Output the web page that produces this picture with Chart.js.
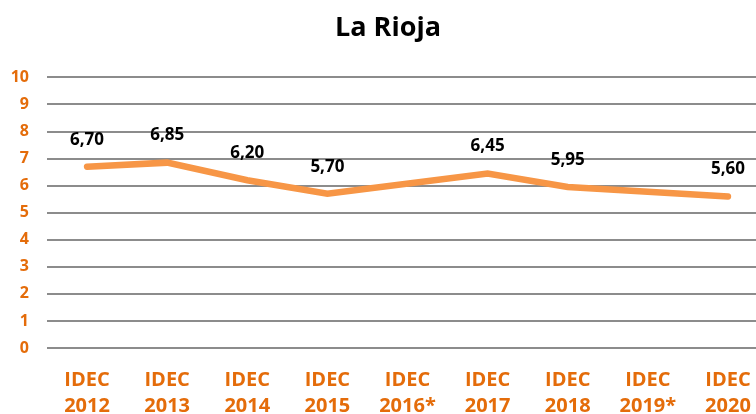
<!DOCTYPE html>
<html>
<head>
<meta charset="utf-8">
<script src="https://cdn.jsdelivr.net/npm/chart.js@4/dist/chart.umd.min.js"></script>
<style>
    html, body { margin: 0; padding: 0; background: #fff; overflow: hidden; }
    .wrap { width: 784px; height: 414px; }
</style>
</head>
<body>
<div class="wrap"><canvas class="myChart" width="784" height="414"></canvas></div>
<script>
const years = ["2012", "2013", "2014", "2015", "2016*", "2017", "2018", "2019*", "2020"];
const idecValues = [6.70, 6.85, 6.20, 5.70, null, 6.45, 5.95, null, 5.60];
const yTicks = [0, 1, 2, 3, 4, 5, 6, 7, 8, 9, 10];

const orangeText = "#E46C0A";
const lineColor = "#F79646";
const fontName = "'Open Sans'";

// simple label plugin, draws the value above each point
const valueLabels = {
    id: "valueLabels",
    afterDatasetsDraw(chart) {
        const ctx = chart.ctx;
        const meta = chart.getDatasetMeta(0);
        ctx.save();
        ctx.font = "bold 17px " + fontName;
        ctx.fillStyle = "#000";
        ctx.textAlign = "center";
        ctx.textBaseline = "middle";
        meta.data.forEach((pt, i) => {
            const v = idecValues[i];
            if (v === null) return;
            ctx.fillText(v.toFixed(2).replace(".", ","), pt.x, pt.y - 27);
        });
        ctx.restore();
    }
};

const ctx = document.querySelector(".myChart").getContext("2d");

new Chart(ctx, {
    type: "line",
    data: {
        labels: years.map(y => ["IDEC", y]),
        datasets: [{
            data: idecValues,
            borderColor: lineColor,
            borderWidth: 6.5,
            borderCapStyle: "round",
            pointRadius: 0,
            spanGaps: true,
            tension: 0
        }]
    },
    options: {
        responsive: false,
        animation: false,
        layout: { padding: { left: 8, right: 16, top: 0, bottom: 0 } },
        plugins: {
            legend: { display: false },
            tooltip: { enabled: false },
            title: {
                display: true,
                text: "La Rioja",
                color: "#000",
                font: { family: fontName, size: 27, weight: "bold", lineHeight: 1.2 },
                padding: { top: 12, bottom: 33 }
            }
        },
        scales: {
            x: {
                offset: true,
                afterFit: axis => { axis.height = 66; },
                grid: { display: false },
                border: { display: false },
                ticks: {
                    color: orangeText,
                    font: { family: fontName, size: 20, weight: "bold", lineHeight: 1.3 },
                    maxRotation: 0,
                    padding: 11
                }
            },
            y: {
                min: 0,
                max: 10,
                afterFit: axis => { axis.width = 39; },
                afterBuildTicks: axis => { axis.ticks = yTicks.map(v => ({ value: v })); },
                grid: { color: "#8c8c8c", lineWidth: 2, drawTicks: false },
                border: { display: false },
                ticks: {
                    color: orangeText,
                    font: { family: fontName, size: 16, weight: "bold" },
                    padding: 18
                }
            }
        }
    },
    plugins: [valueLabels]
});
</script>
</body>
</html>
